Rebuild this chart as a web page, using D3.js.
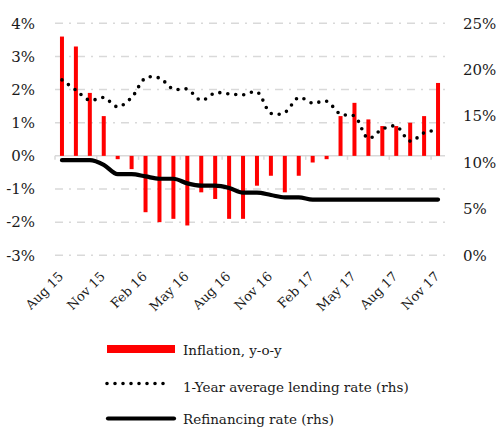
<!DOCTYPE html>
<meta charset="utf-8">
<script src="https://cdnjs.cloudflare.com/ajax/libs/d3/7.8.5/d3.min.js"></script>
<style>
body { margin: 0; background: #fff; }
text { font-family: "DejaVu Serif", serif; fill: #1a1a1a; }
</style>
<body>
<script>
// data
var months = ["Aug 15","Sep 15","Oct 15","Nov 15","Dec 15",
  "Jan 16","Feb 16","Mar 16","Apr 16","May 16","Jun 16","Jul 16","Aug 16","Sep 16","Oct 16","Nov 16","Dec 16",
  "Jan 17","Feb 17","Mar 17","Apr 17","May 17","Jun 17","Jul 17","Aug 17","Sep 17","Oct 17","Nov 17"];
var inflation = [3.6,3.3,1.9,1.2,-0.1,-0.4,-1.7,-2.0,-1.9,-2.1,-1.1,-1.3,-1.9,-1.9,-0.9,-0.6,-1.1,-0.6,-0.2,-0.1,
  1.2,1.6,1.1,0.9,0.9,1.0,1.2,2.2];
var lending = [18.9,17.8,16.7,17.0,16.0,17.0,19.1,19.1,17.9,17.9,16.7,17.5,17.4,17.3,17.6,15.3,15.4,17.0,16.4,16.6,
  15.2,15.0,12.6,13.6,13.9,12.3,13.2,13.5];
var refi = [10.25,10.25,10.25,9.75,8.75,8.75,8.5,8.25,8.25,7.75,7.5,7.5,7.25,6.75,6.75,6.5,6.25,6.25,
  6,6,6,6,6,6,6,6,6,6];
var leftTicks = [-3,-2,-1,0,1,2,3,4];
var rightTicks = [0,5,10,15,20,25];
var legendLabels = ["Inflation, y-o-y","1-Year average lending rate (rhs)","Refinancing rate (rhs)"];

var w = 501, h = 428;
var plotL = 55, plotR = 445, plotT = 23.3, plotB = 255.3;

var svg = d3.select("body").append("svg")
  .attr("width", w)
  .attr("height", h);

var x = d3.scaleBand().domain(months).range([plotL, plotR]);
var yL = d3.scaleLinear().domain([-3, 4]).range([plotB, plotT]);
var yR = d3.scaleLinear().domain([0, 25]).range([plotB, plotT]);
var bw = x.bandwidth();

// gridlines (dash-dot)
svg.selectAll("line.grid").data(leftTicks.filter(function(d){ return d != 0; }))
  .enter().append("line")
  .attr("class", "grid")
  .attr("x1", plotL).attr("x2", plotR)
  .attr("y1", function(d){ return yL(d); })
  .attr("y2", function(d){ return yL(d); })
  .attr("stroke", "#d9d9d9")
  .attr("stroke-width", 1.5)
  .attr("stroke-dasharray", "8,6,2,6");

// zero axis with ticks every 3 months
svg.append("line")
  .attr("x1", plotL).attr("x2", plotR)
  .attr("y1", yL(0)).attr("y2", yL(0))
  .attr("stroke", "#d9d9d9").attr("stroke-width", 1.5);

var tickMonths = months.filter(function(d, i){ return i % 3 == 0; });
svg.selectAll("line.tk").data(tickMonths).enter().append("line")
  .attr("class", "tk")
  .attr("x1", function(d){ return x(d); })
  .attr("x2", function(d){ return x(d); })
  .attr("y1", yL(0)).attr("y2", yL(0) + 4)
  .attr("stroke", "#d9d9d9").attr("stroke-width", 1.5);

// bars
svg.selectAll("rect.bar").data(inflation).enter().append("rect")
  .attr("class", "bar")
  .attr("x", function(d, i){ return x(months[i]) + bw / 2 - 2; })
  .attr("width", 4)
  .attr("y", function(d){ return yL(Math.max(0, d)); })
  .attr("height", function(d){ return Math.abs(yL(d) - yL(0)); })
  .attr("fill", "#ff0000");

// lines
var lendLine = d3.line()
  .x(function(d, i){ return x(months[i]) + bw / 2; })
  .y(function(d){ return yR(d); })
  .curve(d3.curveCatmullRom);

var refiLine = d3.line()
  .x(function(d, i){ return x(months[i]) + bw / 2; })
  .y(function(d){ return yR(d); })
  .curve(d3.curveMonotoneX);

svg.append("path").datum(refi)
  .attr("d", refiLine)
  .attr("fill", "none").attr("stroke", "#000")
  .attr("stroke-width", 4.2).attr("stroke-linecap", "round");

svg.append("path").datum(lending)
  .attr("d", lendLine)
  .attr("fill", "none").attr("stroke", "#000")
  .attr("stroke-width", 3.6).attr("stroke-linecap", "round")
  .attr("stroke-dasharray", "0,8");

// axes
var axL = svg.append("g")
  .attr("transform", "translate(" + (plotL - 17) + ",0)")
  .call(d3.axisLeft(yL).tickValues(leftTicks).tickSize(0)
    .tickFormat(function(d){ return d + "%"; }));

var axR = svg.append("g")
  .attr("transform", "translate(463,0)")
  .call(d3.axisRight(yR).tickValues(rightTicks).tickSize(0).tickPadding(0)
    .tickFormat(function(d){ return d + "%"; }));

[axL, axR].forEach(function(g){
  g.select(".domain").remove();
  g.selectAll("text").style("font-family", "DejaVu Serif").style("font-size", "15px").attr("fill", "#1a1a1a");
});

var axX = svg.append("g")
  .attr("transform", "translate(0,274)")
  .call(d3.axisBottom(x).tickValues(tickMonths).tickSize(0));
axX.select(".domain").remove();
axX.selectAll("text")
  .style("font-family", "DejaVu Serif").style("font-size", "13px").attr("fill", "#1a1a1a")
  .attr("text-anchor", "end")
  .attr("y", 0)
  .attr("dy", "0.35em")
  .attr("transform", "translate(-1,0) rotate(-45)");

// legend
var lg = svg.append("g");
lg.append("rect")
  .attr("x", 107).attr("y", 345).attr("width", 68).attr("height", 8)
  .attr("fill", "#ff0000");
lg.append("line")
  .attr("x1", 107).attr("x2", 171).attr("y1", 383.5).attr("y2", 383.5)
  .attr("stroke", "#000").attr("stroke-width", 3.6)
  .attr("stroke-linecap", "round").attr("stroke-dasharray", "0,8");
lg.append("line")
  .attr("x1", 108).attr("x2", 174).attr("y1", 418.5).attr("y2", 418.5)
  .attr("stroke", "#000").attr("stroke-width", 4.2).attr("stroke-linecap", "round");

lg.selectAll("text").data(legendLabels).enter().append("text")
  .attr("x", 183)
  .attr("y", function(d, i){ return [355, 391.5, 424][i]; })
  .style("font-size", "13.5px")
  .text(function(d){ return d; });
</script>
</body>
